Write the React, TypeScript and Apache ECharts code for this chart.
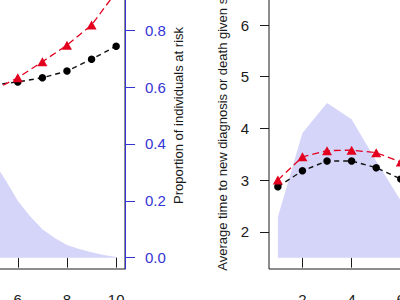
import React, { useEffect, useRef } from "react";
import * as echarts from "echarts";

// Left panel: follow-up years 5–10
const leftYears = [5, 6, 7, 8, 9, 10];
const leftObserved = [4.84, 4.9, 4.98, 5.11, 5.34, 5.59];
const leftPredicted = [4.74, 4.98, 5.29, 5.61, 6.0, 6.64];
const leftRiskYears = [5, 5.5, 6, 6.5, 7, 7.5, 8, 8.5, 9, 9.5, 10];
const leftRisk = [0.34, 0.273, 0.2, 0.146, 0.1, 0.069, 0.044, 0.03, 0.019, 0.009, 0.002];

// Right panel: follow-up years 1–6
const rightYears = [1, 2, 3, 4, 5, 6];
const rightObserved = [2.87, 3.18, 3.37, 3.37, 3.24, 3.02];
const rightPredicted = [3.0, 3.45, 3.57, 3.58, 3.53, 3.35];
const rightRisk = [0.143, 0.438, 0.544, 0.487, 0.34, 0.2];

const xTicks = [2, 4, 6, 8, 10];
const timeTicks = [2, 3, 4, 5, 6];
const riskTicks = [0, 0.2, 0.4, 0.6, 0.8, 1.0];

const FONT = "'Liberation Sans', Arial, Helvetica, sans-serif";
const INK = "#1a1a1a";
const BLUE = "#3434d6";
const SHADE = "#d5d5fa";
const RED = "#e3001f";
const TICK_FONT = 15;

const pairs = (xs: number[], ys: number[]) => xs.map((x, i) => [x, ys[i]]);

function xAxisFor(gridIndex: number) {
  return {
    type: "value",
    gridIndex,
    min: 0.64,
    max: 10.36,
    axisLine: { show: false },
    splitLine: { show: false },
    axisTick: {
      show: true,
      inside: false,
      length: 10,
      customValues: xTicks,
      lineStyle: { color: INK, width: 1 },
    },
    axisLabel: {
      customValues: xTicks,
      margin: 23,
      fontSize: TICK_FONT,
      color: INK,
      fontFamily: FONT,
    },
  };
}

function riskArea(xAxisIndex: number, yAxisIndex: number, data: number[][]) {
  return {
    type: "line",
    xAxisIndex,
    yAxisIndex,
    data,
    symbol: "none",
    showSymbol: false,
    lineStyle: { width: 0, opacity: 0 },
    areaStyle: { color: SHADE, opacity: 1 },
    z: 1,
  };
}

function observedLine(xAxisIndex: number, yAxisIndex: number, data: number[][]) {
  return {
    type: "line",
    xAxisIndex,
    yAxisIndex,
    data,
    symbol: "circle",
    symbolSize: 7.5,
    itemStyle: { color: "#000000" },
    lineStyle: { color: "#111111", width: 1.4, type: [5, 4] },
    z: 3,
  };
}

function predictedLine(xAxisIndex: number, yAxisIndex: number, data: number[][]) {
  return {
    type: "line",
    xAxisIndex,
    yAxisIndex,
    data,
    symbol: "triangle",
    symbolSize: [10, 9],
    itemStyle: { color: RED },
    lineStyle: { color: RED, width: 1.3, type: [7, 4] },
    z: 4,
  };
}

export default function App() {
  const ref = useRef<HTMLDivElement>(null);

  useEffect(() => {
    if (!ref.current) return;
    const chart = echarts.init(ref.current, undefined, { renderer: "svg" });

    const gridBox = {
      show: true,
      borderColor: INK,
      borderWidth: 1,
      backgroundColor: "transparent",
      outerBoundsMode: "none",
      containLabel: false,
      top: -38,
      height: 307,
      width: 239,
    };

    chart.setOption({
      animation: false,
      backgroundColor: "#ffffff",
      textStyle: { fontFamily: FONT },
      grid: [
        { ...gridBox, left: -114 },
        { ...gridBox, left: 269 },
      ],
      xAxis: [xAxisFor(0), xAxisFor(1)],
      yAxis: [
        // left panel: time scale (its axis sits off the visible area)
        {
          type: "value",
          gridIndex: 0,
          min: 1.28,
          max: 7.22,
          show: false,
        },
        // left panel: proportion at risk, right-hand blue axis
        {
          type: "value",
          gridIndex: 0,
          position: "right",
          min: -0.04,
          max: 1.04,
          splitLine: { show: false },
          axisLine: { show: true, lineStyle: { color: BLUE, width: 1 } },
          axisTick: {
            show: true,
            inside: false,
            length: 10,
            customValues: riskTicks,
            lineStyle: { color: BLUE, width: 1 },
          },
          axisLabel: {
            customValues: riskTicks,
            formatter: (v: number) => v.toFixed(1),
            margin: 20,
            fontSize: TICK_FONT,
            color: BLUE,
            fontFamily: FONT,
          },
          name: "Proportion of individuals at risk",
          nameLocation: "middle",
          nameRotate: 90,
          nameGap: 47,
          nameMoveOverlap: false,
          nameTextStyle: { fontSize: 13, color: INK, fontFamily: FONT },
        },
        // right panel: time scale
        {
          type: "value",
          gridIndex: 1,
          position: "left",
          min: 1.28,
          max: 7.22,
          splitLine: { show: false },
          axisLine: { show: false },
          axisTick: {
            show: true,
            inside: false,
            length: 9,
            customValues: timeTicks,
            lineStyle: { color: INK, width: 1 },
          },
          axisLabel: {
            customValues: timeTicks,
            margin: 20,
            fontSize: TICK_FONT,
            color: INK,
            fontFamily: FONT,
          },
          name: "Average time to new diagnosis or death given survival",
          nameLocation: "middle",
          nameRotate: 90,
          nameGap: 40,
          nameMoveOverlap: false,
          nameTextStyle: { fontSize: 13, color: INK, fontFamily: FONT },
        },
        // right panel: proportion at risk
        {
          type: "value",
          gridIndex: 1,
          position: "right",
          min: -0.04,
          max: 1.04,
          show: false,
        },
      ],
      series: [
        riskArea(0, 1, pairs(leftRiskYears, leftRisk)),
        observedLine(0, 0, pairs(leftYears, leftObserved)),
        predictedLine(0, 0, pairs(leftYears, leftPredicted)),
        riskArea(1, 3, pairs(rightYears, rightRisk)),
        observedLine(1, 2, pairs(rightYears, rightObserved)),
        predictedLine(1, 2, pairs(rightYears, rightPredicted)),
      ],
    });

    return () => chart.dispose();
  }, []);

  return (
    <div
      ref={ref}
      style={{ position: "fixed", left: 0, top: 0, width: 400, height: 300 }}
    />
  );
}
